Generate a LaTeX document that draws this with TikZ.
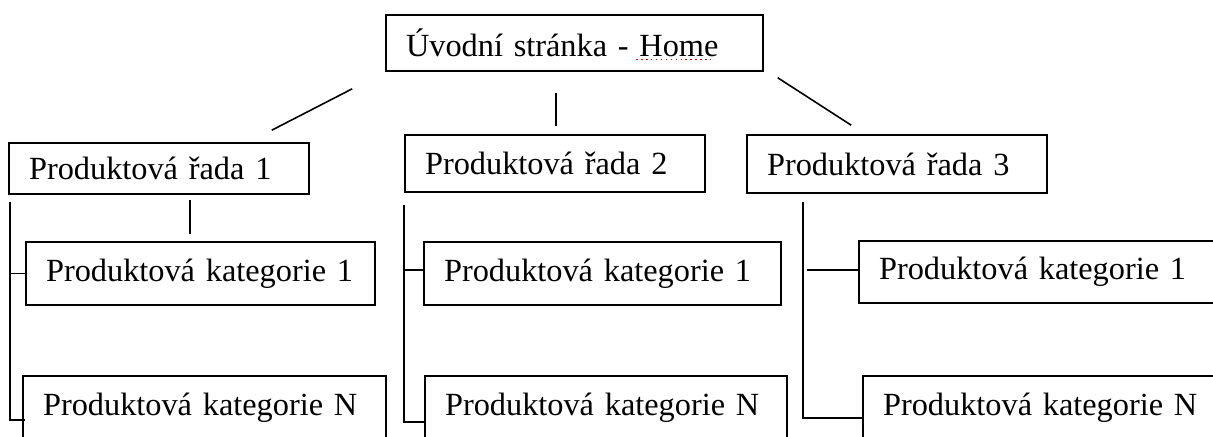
\documentclass[tikz,border=0pt]{standalone}
\usepackage{fontspec}
\setmainfont{Liberation Serif}
\usetikzlibrary{calc}

\begin{document}
\begin{tikzpicture}[x=0.02cm, y=-0.02cm, line width=0.9pt,
    box/.style={draw, rectangle, inner xsep=0.4cm, inner ysep=0pt, align=left,
      font=\fontsize{18.4}{22}\selectfont}]
      \useasboundingbox (0,0) rectangle (1213,436);
      \clip (0,0) rectangle (1213,436);
      \node[box, text width=6.74cm, minimum height=1.12cm] (home) at (574.5,43) {Úvodní stránka - Home};
      \draw[red!85!black, dotted, line width=0.8pt] ($(home.south west)+(251,-12)$) -- ++(77,0);

      \node[box, text width=5.2cm, minimum height=1.02cm] (rada1) at (159,168.5) {Produktová řada 1};
      \node[box, text width=5.2cm, minimum height=1.14cm] (rada2) at (555,163.5) {Produktová řada 2};
      \node[box, text width=5.2cm, minimum height=1.16cm] (rada3) at (897,164) {Produktová řada 3};

      \node[box, text width=6.18cm, minimum height=1.26cm] (kat11) at (200.5,273.5) {Produktová kategorie 1};
      \node[box, text width=6.46cm, minimum height=1.26cm] (kat1N) at (204.5,407.5) {Produktová kategorie N};
      \node[box, text width=6.34cm, minimum height=1.26cm] (kat21) at (602.5,273.5) {Produktová kategorie 1};
      \node[box, text width=6.44cm, minimum height=1.26cm] (kat2N) at (606,407.5) {Produktová kategorie N};
      \node[box, text width=6.4cm, minimum height=1.24cm] (kat31) at (1039,272) {Produktová kategorie 1};
      \node[box, text width=6.44cm, minimum height=1.26cm] (kat3N) at (1044,407.5) {Produktová kategorie N};

      % home -> rady
      \coordinate (h1) at ($(home.south west)+(-33,17)$);
      \coordinate (r1) at ($(rada1.north east)+(-38,-12)$);
      \coordinate (h2) at ($(home.south)+(-18.5,21)$);
      \coordinate (r2) at ($(rada2.north)+(1,-8)$);
      \coordinate (h3) at ($(home.south east)+(14,6)$);
      \coordinate (r3) at ($(rada3.north west)+(105,-9)$);
      \draw (h1) -- (r1);
      \draw (h2) -- (r2);
      \draw (h3) -- (r3);

      % rada 1
      \coordinate (a1) at ($(rada1.south)+(31,5)$);
      \coordinate (b1) at ($(kat11.north)+(-10.5,-7)$);
      \draw (a1) -- (b1);
      \coordinate (s1t) at ($(rada1.south west)+(2,7)$);
      \coordinate (s1b) at (s1t |- 0,420);
      \draw (s1t) -- (s1b) -- ($(s1b -| kat1N.west)+(3,0)$);
      \draw (s1t |- kat11.west) -- (kat11.west);

      % rada 2
      \coordinate (s2t) at ($(rada2.south west)+(0,12)$);
      \coordinate (s2b) at (s2t |- 0,422);
      \draw (s2t) -- (s2b) -- (s2b -| kat2N.west);
      \draw ($(s2t |- kat21.west)+(0,-3.5)$) -- ($(kat21.west)+(0,-3.5)$);

      % rada 3
      \coordinate (s3t) at ($(rada3.south west)+(57,8)$);
      \coordinate (s3b) at (s3t |- 0,418);
      \draw (s3t) -- (s3b) -- (s3b -| kat3N.west);
      \draw ($(s3t |- kat31.west)+(4,-2)$) -- ($(kat31.west)+(0,-2)$);
    \end{tikzpicture}
\end{document}
